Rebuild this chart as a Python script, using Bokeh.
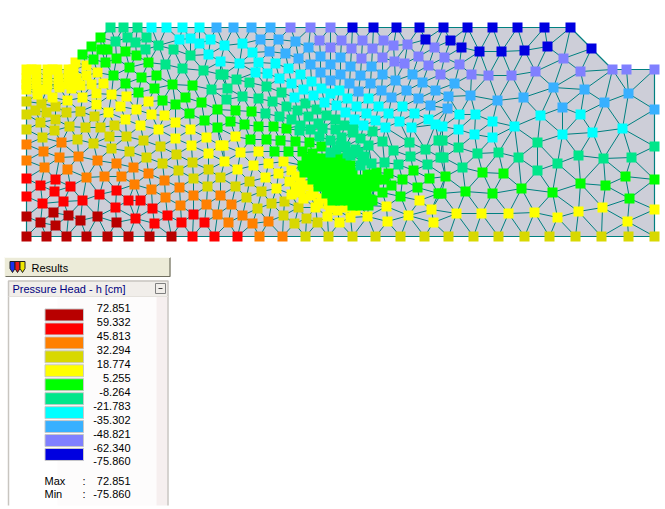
from bokeh.plotting import figure
from bokeh.embed import file_html
from bokeh.resources import INLINE
from bokeh.core.properties import value

# ---- legend ----
legend_title = "Pressure Head - h [cm]"
legend_values = ["72.851","59.332","45.813","32.294","18.774","5.255","-8.264","-21.783","-35.302","-48.821","-62.340","-75.860"]
level_colors = ["#b80000","#ff0000","#ff8000","#d8d800","#ffff00","#00ff00","#00e68a","#00ffff","#38b0ff","#8080ff","#0000e0"]

# ---- mesh outline (mesh coordinates) ----
domain = [(26,236),(654,236),(654,69),(612,69),(591,48),(570,27),(110,27),(100,37),(91,46),(82,54),(75,62),(68,69),(26,69)]

# ---- nodes per level (mesh coordinates) ----
nodes_darkred = [(26,216),(40,222),(53,212),(68,215),(55,225),(80,220),(97,216),(116,222),(26,236),(46,236),(66,236),(86,236),(107,236),(128,236),(149,236),(171,236)]
nodes_red = [(26,178),(40,185),(55,179),(54,191),(70,186),(26,196),(42,203),(63,201),(82,200),(99,194),(116,190),(128,200),(140,200),(115,207),(152,208),(135,218),(167,215),(193,214),(154,223),(181,222),(204,222),(192,236),(214,236),(237,236)]
nodes_orange = [(26,144),(43,151),(61,142),(26,160),(44,167),(59,157),(78,156),(67,169),(97,160),(116,163),(133,167),(148,173),(86,177),(104,176),(121,176),(134,184),(164,180),(151,189),(179,187),(165,197),(193,195),(220,195),(180,205),(206,204),(217,214),(231,204),(242,215),(228,222),(252,223),(268,221),(259,236),(282,236)]
nodes_olive = [(26,101),(41,103),(26,114),(35,110),(46,112),(55,106),(66,112),(80,111),(94,116),(40,122),(55,119),(69,126),(85,127),(100,127),(114,125),(26,129),(54,130),(42,137),(77,139),(93,143),(109,136),(126,136),(143,140),(160,146),(111,148),(129,151),(146,157),(176,154),(162,163),(192,162),(178,170),(208,169),(193,178),(220,177),(207,186),(235,186),(249,181),(261,191),(246,197),(257,208),(271,203),(284,201),(298,207),(283,215),(306,218),(294,223),(317,222),(305,236),(328,236),(352,236),(375,236),(400,236),(424,236),(448,236),(473,236),(498,236),(524,236),(549,236),(575,236),(601,236),(628,236),(654,236)]
nodes_yellow = [(26,69),(36,69),(47,69),(57,69),(68,69),(31,69),(52,69),(73,69),(26,78),(36,78),(47,78),(58,78),(68,78),(76,78),(26,84),(36,84),(47,84),(58,84),(68,84),(76,84),(75,62),(86,65),(86,75),(97,72),(26,89),(37,89),(46,89),(59,87),(71,88),(80,85),(91,84),(103,83),(37,94),(52,97),(67,100),(82,97),(96,93),(111,94),(126,96),(96,104),(108,112),(120,106),(136,109),(148,101),(151,114),(164,115),(125,119),(175,122),(140,125),(190,129),(158,129),(175,138),(206,137),(191,145),(208,153),(220,145),(235,136),(223,145),(240,152),(258,151),(224,161),(237,169),(253,165),(268,163),(283,161),(265,177),(278,173),(291,170),(289,181),(276,188),(296,176),(295,186),(300,180),(308,185),(300,187),(300,192),(310,195),(291,194),(303,198),(313,193),(322,198),(318,203),(330,207),(315,207),(328,204),(337,210),(327,216),(339,222),(350,217),(345,207),(355,210),(360,202),(367,216),(387,221),(386,206),(408,215),(419,200),(433,222),(431,209),(456,213),(481,213),(508,213),(534,212),(557,217),(578,211),(602,207),(627,221),(654,209)]
nodes_green = [(100,37),(91,46),(101,49),(107,49),(82,54),(93,59),(105,62),(116,58),(125,51),(136,55),(148,62),(113,75),(129,67),(141,77),(156,75),(125,83),(154,88),(172,84),(192,85),(138,92),(162,100),(175,104),(185,97),(201,102),(189,113),(204,120),(217,109),(217,127),(235,110),(251,111),(230,121),(244,124),(258,126),(273,126),(286,128),(250,139),(266,139),(280,140),(295,141),(309,142),(321,146),(274,151),(288,151),(302,151),(312,153),(367,174),(376,172),(388,173),(402,179),(413,170),(429,178),(417,187),(391,185),(372,183),(382,192),(400,196),(370,199),(438,193),
 (306,158),(314,158),(322,158),(330,158),(338,158),(346,158),
 (302,165),(310,165),(318,165),(326,165),(334,165),(342,165),(350,165),
 (304,172),(312,172),(320,172),(328,172),(336,172),(344,172),(352,172),
 (312,179),(320,179),(328,179),(336,179),(344,179),(352,179),(360,179),(368,179),(376,179),(384,179),
 (318,186),(326,186),(334,186),(342,186),(350,186),(358,186),(366,186),(374,186),
 (326,193),(334,193),(342,193),(350,193),(358,193),(366,193),
 (332,200),(340,200),(348,200),(356,200),(364,200),(372,200),
 (352,205),(360,205),(368,205),
 (445,176),(482,172),(503,173),(465,191),(441,193),(492,193),(521,188),(552,192),(580,183),(605,185),(625,176),(654,179),(629,198)]
nodes_spring = [(110,27),(123,27),(137,27),(115,41),(127,37),(135,42),(146,37),(145,49),(158,45),(173,49),(165,64),(190,55),(182,68),(203,70),(211,89),(220,74),(223,74),(236,79),(249,82),(227,88),(266,86),(226,99),(242,96),(258,98),(281,92),(272,101),(286,106),(265,113),(279,116),(305,103),(297,110),(316,109),(291,119),(308,116),(326,115),(335,119),(300,125),(318,123),(344,125),(353,128),(372,131),(299,130),(310,129),(322,128),(335,129),(319,136),(330,140),(341,137),(352,132),(360,138),(382,141),(368,145),(340,145),(336,149),(345,146),(350,155),(358,152),(362,160),(355,149),(330,152),(347,153),(364,156),(393,150),(409,142),(410,156),(425,149),(427,164),(398,164),(384,162),(371,163),(360,165),(438,140),(440,157),(442,140),(458,147),(477,153),(498,152),(518,157),(537,142),(578,155),(603,158),(631,157),(654,146),(557,163),(443,157),(462,167),(537,170)]
nodes_cyan = [(151,27),(166,27),(182,27),(199,27),(179,39),(190,38),(199,43),(210,39),(208,54),(220,61),(224,45),(242,43),(252,52),(239,63),(258,62),(275,63),(255,72),(267,73),(288,68),(279,78),(300,74),(291,83),(311,81),(303,89),(321,88),(330,93),(339,90),(294,97),(313,95),(324,102),(347,98),(368,98),(336,105),(356,106),(378,106),(402,106),(345,112),(366,113),(388,113),(414,113),(354,119),(375,120),(399,121),(428,119),(363,125),(385,127),(411,127),(435,124),(459,114),(475,114),(492,121),(540,115),(580,114),(442,126),(458,129),(514,126),(474,134),(492,137),(562,134),(592,132),(622,128)]
nodes_sky = [(216,27),(233,27),(251,27),(270,27),(260,39),(278,39),(295,41),(308,47),(269,51),(285,53),(298,58),(320,56),(340,57),(310,64),(330,64),(350,66),(371,66),(320,72),(340,74),(360,75),(382,74),(412,74),(330,80),(349,83),(370,83),(395,80),(422,82),(358,91),(381,90),(406,90),(435,90),(391,97),(418,98),(430,105),(454,83),(448,96),(470,95),(447,108),(497,100),(523,97),(553,87),(584,89),(628,93),(604,102),(654,109),(562,107)]
nodes_purple = [(290,27),(310,27),(330,27),(319,40),(330,47),(341,40),(351,48),(362,40),(372,48),(383,40),(393,45),(407,44),(434,47),(418,56),(361,58),(382,57),(394,61),(404,63),(428,65),(440,74),(444,57),(459,64),(471,74),(488,75),(511,75),(535,71),(563,58),(580,71),(612,69),(626,69),(654,69)]
nodes_blue = [(352,27),(373,27),(396,27),(419,27),(443,27),(467,27),(492,27),(517,27),(544,27),(570,27),(425,39),(450,40),(461,47),(479,51),(501,51),(524,50),(547,46),(591,48)]
levels = [nodes_darkred,nodes_red,nodes_orange,nodes_olive,nodes_yellow,nodes_green,nodes_spring,nodes_cyan,nodes_sky,nodes_purple,nodes_blue]


def delaunay(points):
    """Bowyer-Watson; returns triangles as index triples."""
    n = len(points)
    pts = list(points) + [(-20000.0,-20000.0),(40000.0,-20000.0),(300.0,40000.0)]
    def circ(t):
        (ax,ay),(bx,by),(cx,cy) = pts[t[0]],pts[t[1]],pts[t[2]]
        d = 2*(ax*(by-cy)+bx*(cy-ay)+cx*(ay-by))
        if abs(d) < 1e-9:
            return (0.0,0.0,1e18)
        ux = ((ax*ax+ay*ay)*(by-cy)+(bx*bx+by*by)*(cy-ay)+(cx*cx+cy*cy)*(ay-by))/d
        uy = ((ax*ax+ay*ay)*(cx-bx)+(bx*bx+by*by)*(ax-cx)+(cx*cx+cy*cy)*(bx-ax))/d
        return (ux,uy,(ax-ux)**2+(ay-uy)**2)
    tris = {(n,n+1,n+2): circ((n,n+1,n+2))}
    for i in range(n):
        x,y = pts[i]
        bad = [t for t,c in tris.items() if (x-c[0])**2+(y-c[1])**2 < c[2]]
        edges = {}
        for t in bad:
            for e in ((t[0],t[1]),(t[1],t[2]),(t[2],t[0])):
                k = tuple(sorted(e))
                edges[k] = edges.get(k,0)+1
            del tris[t]
        for (a,b),c in edges.items():
            if c == 1:
                t = (a,b,i)
                tris[t] = circ(t)
    return [t for t in tris if max(t) < n]


def inside(x,y,poly):
    r = False
    for i in range(len(poly)):
        (x1,y1),(x2,y2) = poly[i],poly[i-1]
        if (y1>y) != (y2>y) and x < (x2-x1)*(y-y1)/(y2-y1)+x1:
            r = not r
    return r

all_pts = sorted({(float(a),float(b)) for lv in levels for a,b in lv}, key=lambda q:(q[0]*7.13+q[1]*3.71)%97)
edges = set()
for t in delaunay(all_pts):
    cx = sum(all_pts[i][0] for i in t)/3
    cy = sum(all_pts[i][1] for i in t)/3
    if inside(cx,cy,domain):
        for e in ((t[0],t[1]),(t[1],t[2]),(t[2],t[0])):
            edges.add(tuple(sorted(e)))

W,H = 665,509
p = figure(width=W,height=H,x_range=(0,W),y_range=(H,0),output_backend="svg",toolbar_location=None,
           min_border=0,outline_line_color=None,background_fill_color="white",border_fill_color="white",
           styles={"position":"absolute","left":"0px","top":"0px"})
p.axis.visible = False
p.grid.visible = False

# mesh
p.patch([q[0] for q in domain],[q[1] for q in domain],fill_color="#cdced8",line_color="#008080",line_width=1.2)
p.multi_line([[all_pts[a][0],all_pts[b][0]] for a,b in edges],[[all_pts[a][1],all_pts[b][1]] for a,b in edges],
             line_color="#008080",line_width=1)
for lv,col in zip(levels,level_colors):
    p.rect([q[0] for q in lv],[q[1] for q in lv],width=10,height=10,fill_color=col,line_color=None)

# "Results" tab
p.quad(left=[4],right=[170],top=[257],bottom=[276],fill_color="#ecebd8",line_color=None)
p.line([5,169.5,169.5],[276,276,257],line_color="#6f6e60",line_width=1.2)
p.line([4,4,169.5],[276,257,257],line_color="#fbfbf5",line_width=1)
icon_x = [12,17,22]
icon_c = ["#1830f0","#e81818","#f0e800"]
for x,c in zip(icon_x,icon_c):
    p.patch([x-2.5,x+2.5,x+2.5,x,x-2.5],[261,261,268,272,268],fill_color=c,line_color="#202020",line_width=1)
p.text([31],[267],text=["Results"],text_font=value("Liberation Sans"),text_font_size="11px",text_baseline="middle",text_color="#000000")

# panel
p.quad(left=[8],right=[168],top=[280],bottom=[505],fill_color="#ffffff",line_color=None)
p.quad(left=[57,156],right=[156,167],top=[296,296],bottom=[505,505],fill_color=["#fdfcfc","#f6efef"],line_color=None)
p.quad(left=[8],right=[168],top=[280],bottom=[296],fill_color="#f1eeea",line_color=None)
p.line([8,8,167.5,167.5],[505,280.5,280.5,505],line_color="#c8c5c0",line_width=1.5)
p.line([8,167.5],[296,296],line_color="#e4e1dc",line_width=1)
p.text([12],[288.5],text=[legend_title],text_font=value("Liberation Sans"),text_font_size="11px",text_baseline="middle",text_color="#000080")
p.quad(left=[155],right=[165],top=[283],bottom=[293],fill_color="#f1eeea",line_color="#808080",line_width=1)
p.line([158,162],[288,288],line_color="#404040",line_width=1)

first_y,step = 307.5,13.95
lab_y = [first_y+i*step for i in range(len(legend_values))]
sw_y = [first_y+(i+.5)*step for i in range(len(level_colors))]
p.quad(left=[44.5]*11,right=[83]*11,top=[y-6 for y in sw_y],bottom=[y+6 for y in sw_y],
       fill_color=level_colors,line_color="#c8c8c8",line_width=1)
p.text([130]*12,lab_y,text=legend_values,text_align="right",text_baseline="middle",
       text_font=value("Liberation Sans"),text_font_size="11px",text_color="#000000")
p.text([44,44],[480,493],text=["Max","Min"],text_baseline="middle",text_font=value("Liberation Sans"),text_font_size="11px",text_color="#000000")
p.text([82,82],[480,493],text=[":",":"],text_baseline="middle",text_font=value("Liberation Sans"),text_font_size="11px",text_color="#000000")
p.text([130,130],[480,493],text=["72.851","-75.860"],text_align="right",text_baseline="middle",text_font=value("Liberation Sans"),text_font_size="11px",text_color="#000000")

open("out.html","w").write(file_html(p,INLINE))
